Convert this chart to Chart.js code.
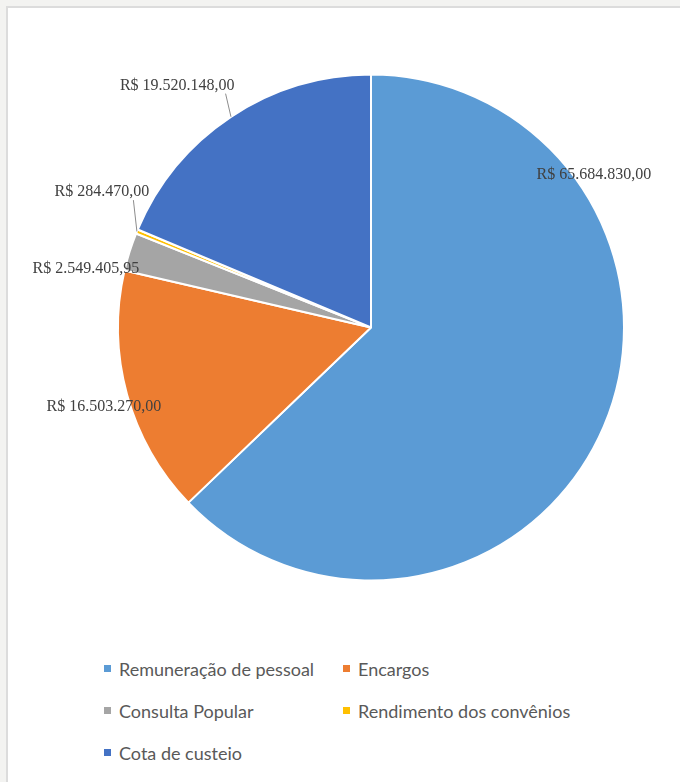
<!DOCTYPE html>
<html lang="pt-BR">
<head>
  <meta charset="UTF-8" />
  <title>Receitas</title>
  <script src="https://cdn.jsdelivr.net/npm/chart.js"></script>
  <style>
    body {
      margin: 0;
      width: 680px;
      height: 782px;
      overflow: hidden;
      background: #f3f3f1;
      position: relative;
    }
    .panel {
      position: absolute;
      left: 6px;
      top: 6px;
      width: 700px;
      height: 800px;
      background: #fff;
      border-left: 2px solid #dcdcdc;
      border-top: 2px solid #dcdcdc;
    }
    #chart {
      position: absolute;
      left: 0;
      top: 0;
    }
    .legend {
      position: absolute;
      left: 104px;
      top: 656px;
      display: grid;
      grid-template-columns: 239px 260px;
      row-gap: 17px;
      font-family: Lato, 'Noto Sans', sans-serif;
      font-size: 18px;
      color: #595959;
    }
    .legend span {
      display: flex;
      align-items: center;
      height: 25px;
      white-space: nowrap;
    }
    .legend i {
      display: inline-block;
      width: 7px;
      height: 7px;
      margin-right: 8px;
    }
  </style>
</head>
<body>
  <div class="panel"></div>
  <canvas id="chart" width="680" height="640"></canvas>
  <div class="legend" id="legend"></div>

  <script>
    const categories = ['Remuneração de pessoal', 'Encargos', 'Consulta Popular', 'Rendimento dos convênios', 'Cota de custeio'];
    const amounts = [65684830.00, 16503270.00, 2549405.95, 284470.00, 19520148.00];
    const colors = ['#5b9bd5', '#ed7d31', '#a5a5a5', '#ffc000', '#4472c4'];

    // where each value label sits: angle clockwise from 12 o'clock (deg), distance in pie radii
    const labelAngle = [55.6, 253.5, 281.7, 296.7, 321.3];
    const labelDist = [1.068, 1.101, 1.151, 1.191, 1.225];
    const labelLeader = [false, false, false, true, true];

    function brl(v) {
      const parts = v.toFixed(2).split('.');
      const int = parts[0].replace(/\B(?=(\d{3})+(?!\d))/g, '.');
      return 'R$ ' + int + ',' + parts[1];
    }

    const valueLabels = {
      id: 'valueLabels',
      afterDatasetsDraw(chart) {
        const ctx = chart.ctx;
        const arcs = chart.getDatasetMeta(0).data;
        ctx.save();
        ctx.font = '16px "Liberation Serif", "DejaVu Serif", serif';
        ctx.fillStyle = '#404040';
        ctx.textAlign = 'center';
        ctx.textBaseline = 'middle';
        arcs.forEach((arc, i) => {
          const p = arc.getProps(['x', 'y', 'startAngle', 'endAngle', 'outerRadius'], true);
          const a = labelAngle[i] * Math.PI / 180 - Math.PI / 2;
          const lx = p.x + labelDist[i] * p.outerRadius * Math.cos(a);
          const ly = p.y + labelDist[i] * p.outerRadius * Math.sin(a);
          if (labelLeader[i]) {
            const mid = (p.startAngle + p.endAngle) / 2;
            const ex = p.x + p.outerRadius * Math.cos(mid);
            const ey = p.y + p.outerRadius * Math.sin(mid);
            ctx.strokeStyle = '#8c8c8c';
            ctx.lineWidth = 1;
            ctx.beginPath();
            ctx.moveTo(ex, ey);
            ctx.lineTo(ex + (lx - ex) * 0.1, ly + 8);
            ctx.stroke();
          }
          ctx.fillText(brl(amounts[i]), lx, ly);
        });
        ctx.restore();
      }
    };

    new Chart(document.getElementById('chart'), {
      type: 'pie',
      data: {
        labels: categories,
        datasets: [{
          data: amounts,
          backgroundColor: colors,
          borderColor: '#ffffff',
          borderWidth: 2
        }]
      },
      options: {
        responsive: false,
        devicePixelRatio: 1,
        animation: false,
        layout: {
          padding: { left: 117, top: 73, right: 55, bottom: 58 }
        },
        plugins: {
          legend: { display: false },
          tooltip: { enabled: false }
        }
      },
      plugins: [valueLabels]
    });

    const legend = document.getElementById('legend');
    categories.forEach((c, i) => {
      const item = document.createElement('span');
      item.innerHTML = '<i style="background:' + colors[i] + '"></i>' + c;
      legend.appendChild(item);
    });
  </script>
</body>
</html>
